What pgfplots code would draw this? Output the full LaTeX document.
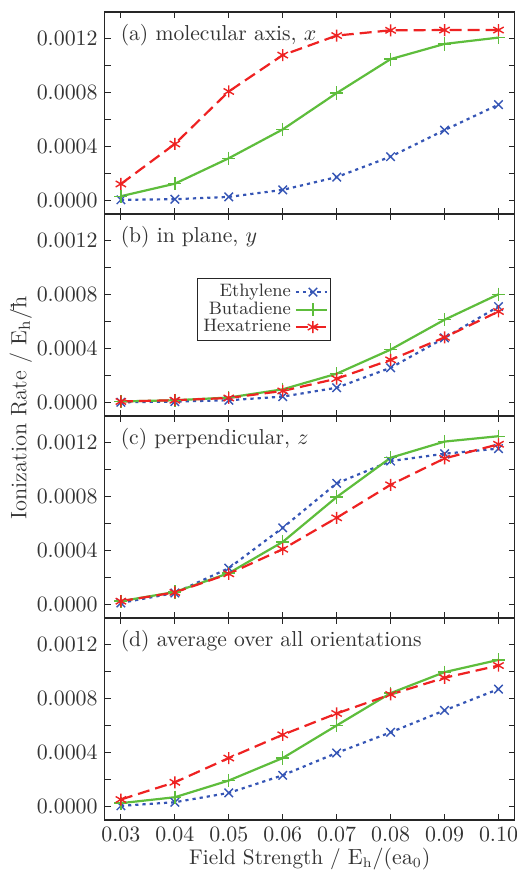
\documentclass[border=0pt]{standalone}
\usepackage{pgfplots}
\pgfplotsset{compat=1.18}
\usepgfplotslibrary{groupplots}

\definecolor{ethc}{HTML}{3555B5}
\definecolor{butc}{HTML}{5EBD3C}
\definecolor{hexc}{HTML}{EE2222}
\definecolor{txt}{HTML}{333333}

\newcommand{\hbup}{\ooalign{h\cr\kern-0.06em\rule[1.32ex]{0.34em}{0.055ex}\cr}}

\pgfplotsset{
  eth/.style={color=ethc, line width=1.1pt, dash pattern=on 1.6pt off 2pt,
    mark=x, mark size=3pt, mark options={solid, line width=0.7pt}},
  but/.style={color=butc, line width=1.1pt, solid,
    mark=+, mark size=3.3pt, mark options={solid, line width=0.7pt}},
  hex/.style={color=hexc, line width=1.1pt, dash pattern=on 6pt off 3pt,
    mark=asterisk, mark size=3pt, mark options={solid, line width=0.7pt}},
}
\tikzset{panel/.style={anchor=west, text=txt, font=\fontsize{10.8}{13}\selectfont}}

\begin{document}
\begin{tikzpicture}
\begin{groupplot}[
  group style={group size=1 by 4, vertical sep=0pt, xticklabels at=edge bottom},
  scale only axis,
  width=205pt, height=101pt,
  xmin=0.027, xmax=0.103,
  ymin=-0.0001, ymax=0.0014,
  xtick={0.03,0.04,0.05,0.06,0.07,0.08,0.09,0.10},
  ytick={0,0.0004,0.0008,0.0012},
  minor ytick={0.0002,0.0006,0.001},
  tick align=inside,
  major tick length=3pt, minor tick length=3pt,
  scaled y ticks=false, scaled x ticks=false,
  yticklabel style={/pgf/number format/.cd, fixed, fixed zerofill, precision=4},
  xticklabel style={/pgf/number format/.cd, fixed, fixed zerofill, precision=2},
  tick label style={text=txt, font=\fontsize{10.6}{12}\selectfont},
  label style={text=txt, font=\fontsize{10.6}{12}\selectfont},
  axis line style={black!85, line width=0.6pt},
  every tick/.style={black!85, line width=0.5pt},
]
% (a) molecular axis
\nextgroupplot
\addplot[eth] table {
0.03 0.000005
0.04 0.000010
0.05 0.000027
0.06 0.000079
0.07 0.000174
0.08 0.000326
0.09 0.000523
0.10 0.000712
};
\addplot[but] table {
0.03 0.000032
0.04 0.000125
0.05 0.000314
0.06 0.000528
0.07 0.000798
0.08 0.001050
0.09 0.001163
0.10 0.001210
};
\addplot[hex] table {
0.03 0.000123
0.04 0.000420
0.05 0.000810
0.06 0.001080
0.07 0.001225
0.08 0.001264
0.09 0.001266
0.10 0.001266
};
\node[panel] at (rel axis cs:0.022,0.885) {(a) molecular axis, $x$};

% (b) in plane
\nextgroupplot[
  legend style={at={(rel axis cs:0.225,0.683)}, anchor=north west,
    legend plot pos=right, font=\small, text=txt, draw=black!85,
    inner sep=1pt, row sep=-3pt, cells={anchor=east}},
  legend image code/.code={
      \draw[mark repeat=2, mark phase=2] plot coordinates {(0cm,0cm) (0.3cm,0cm) (0.55cm,0cm)};},
]
\addplot[eth] table {
0.03 0.000002
0.04 0.000007
0.05 0.000017
0.06 0.000044
0.07 0.000110
0.08 0.000258
0.09 0.000480
0.10 0.000713
};
\addlegendentry{Ethylene}
\addplot[but] table {
0.03 0.000008
0.04 0.000017
0.05 0.000037
0.06 0.000098
0.07 0.000214
0.08 0.000393
0.09 0.000615
0.10 0.000804
};
\addlegendentry{Butadiene}
\addplot[hex] table {
0.03 0.000008
0.04 0.000017
0.05 0.000034
0.06 0.000086
0.07 0.000177
0.08 0.000317
0.09 0.000484
0.10 0.000676
};
\addlegendentry{Hexatriene}
\node[panel] at (rel axis cs:0.022,0.885) {(b) in plane, $y$};

% (c) perpendicular
\nextgroupplot
\addplot[eth] table {
0.03 0.000012
0.04 0.000086
0.05 0.000270
0.06 0.000570
0.07 0.000900
0.08 0.001065
0.09 0.001120
0.10 0.001158
};
\addplot[but] table {
0.03 0.000025
0.04 0.000093
0.05 0.000233
0.06 0.000465
0.07 0.000798
0.08 0.001090
0.09 0.001210
0.10 0.001250
};
\addplot[hex] table {
0.03 0.000025
0.04 0.000090
0.05 0.000228
0.06 0.000411
0.07 0.000644
0.08 0.000889
0.09 0.001085
0.10 0.001190
};
\node[panel] at (rel axis cs:0.022,0.885) {(c) perpendicular, $z$};

% (d) average
\nextgroupplot[xlabel={Field Strength / $\mathrm{E_h/(ea_0)}$},
  xlabel style={yshift=3.5pt}]
\addplot[eth] table {
0.03 0.000005
0.04 0.000032
0.05 0.000101
0.06 0.000232
0.07 0.000398
0.08 0.000551
0.09 0.000714
0.10 0.000872
};
\addplot[but] table {
0.03 0.000025
0.04 0.000069
0.05 0.000193
0.06 0.000360
0.07 0.000602
0.08 0.000842
0.09 0.000998
0.10 0.001089
};
\addplot[hex] table {
0.03 0.000052
0.04 0.000180
0.05 0.000360
0.06 0.000533
0.07 0.000691
0.08 0.000832
0.09 0.000956
0.10 0.001047
};
\node[panel] at (rel axis cs:0.022,0.885) {(d) average over all orientations};
\end{groupplot}
\node[rotate=90, text=txt, font=\fontsize{11.2}{13}\selectfont]
  at ([xshift=-42pt, yshift=4pt]group c1r2.south west)
  {Ionization Rate / $\mathrm{E_h}/$\hbup};
\pgfresetboundingbox
\path (group c1r1.north west) ++(-52.35pt,6pt) rectangle ++(258pt,-436.5pt);
\end{tikzpicture}
\end{document}
